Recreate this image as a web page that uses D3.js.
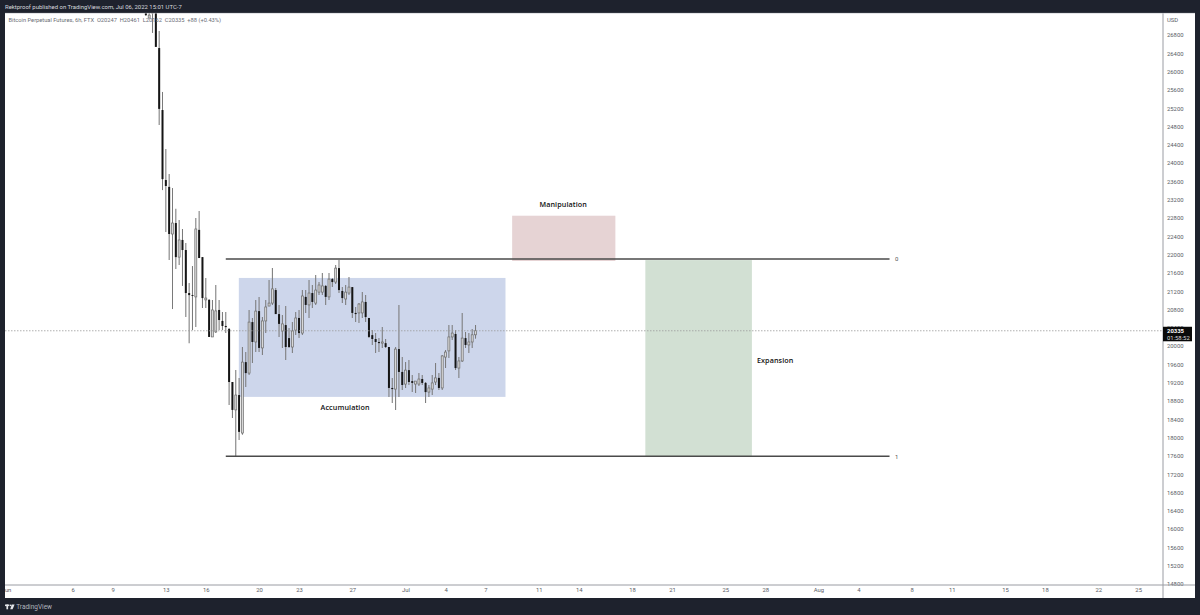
<!DOCTYPE html>
<html><head><meta charset="utf-8">
<script src="https://cdnjs.cloudflare.com/ajax/libs/d3/7.8.5/d3.min.js"></script>
<style>html,body{margin:0;padding:0;background:#1e222d;overflow:hidden}svg{display:block}</style>
</head><body><svg id="c" width="1200" height="615"></svg>
<script>
const firstCandle = "2022-06-11T12:00:00Z";
const opens = [27280,27170,27280,27345,26515,25160,23630,23480,22450,22690,21945,22320,22100,21160,21115,21075,22540,21945,21010,21010,20200,20310,20790,20550,20440,20375,19215,18605,18930,18100,19650,19410,20525,20090,20765,19960,20550,20875,20940,21225,20700,20330,20460,20175,19980,20350,20615,20285,21075,20900,21160,20940,21180,21180,21315,21075,21465,21400,21705,21205,21030,21160,21290,20725,20725,20725,20965,20615,20240,20155,20090,20065,20065,19980,19085,19060,19935,19435,19170,19475,19235,19170,19170,19280,19195,18995,19060,19215,19305,19085,19760,19895,20200,20265,19520,19675,20175,20025,20090,20247];
const highs = [27280,27280,27390,27390,26890,25555,24310,23760,23455,23000,22755,22560,22255,21380,21750,22800,22955,21945,21490,21030,21010,21335,21010,20745,20745,20395,19215,19475,19305,19980,19870,20790,20615,21010,21075,20635,21010,21445,21705,21270,20900,20680,20875,20395,20525,20745,20790,21225,21225,21445,21335,21555,21400,21600,21335,21600,21490,21775,21880,21290,21335,21510,21290,20855,20940,21180,21115,20615,20350,20285,20175,20415,20155,19980,19305,19980,20900,19760,19650,19695,19370,19235,19410,19370,19215,19150,19370,19630,19410,19805,19915,20460,20460,20350,19760,20725,20310,20285,20375,20461];
const lows = [27215,27170,26845,26540,24835,23410,22495,21880,20810,21685,21775,21315,20635,20065,20350,20420,21925,20835,20835,20200,20200,20285,20350,20350,20285,18710,18430,17575,17945,18060,19105,19370,19630,19870,19870,19805,20285,20875,20900,20700,20200,19960,19695,19960,19850,20240,20175,20240,20725,20615,20835,20900,21115,21115,20900,21010,21290,21360,21160,20940,20900,21115,20615,20525,20505,20615,20525,20175,20025,19850,19870,19960,19960,18885,18755,18605,18885,19040,19085,19150,18995,18975,19130,19150,18755,18885,18930,19150,19040,19040,19520,19740,20135,19475,19305,19650,19960,19850,19960,20162];
const closes = [27235,27235,27345,26540,25185,23650,23500,22450,22690,21945,22320,22100,21160,21115,21095,22560,21925,21050,21050,20200,20790,20770,20570,20440,20415,19215,18605,18930,18125,19650,19410,20525,20090,20765,19960,20550,20855,20940,21250,20700,20485,20485,19980,19980,20330,20615,20285,21095,20900,21160,20965,21225,21335,21315,21075,21465,21400,21705,21225,21050,21180,21290,20725,20700,20920,20965,20635,20200,20155,20090,20065,20090,19980,19085,19060,19935,19435,19150,19475,19215,19195,19235,19280,19195,18995,19085,19195,19305,19085,19785,19870,20200,20285,19520,19675,20175,20025,20090,20247,20335];

const priceTicks = d3.range(14800, 27200, 400);
const timeTicks = ["2022-06-01","2022-06-06","2022-06-09","2022-06-13","2022-06-16","2022-06-20","2022-06-23","2022-06-27","2022-07-01","2022-07-04","2022-07-07","2022-07-11","2022-07-14","2022-07-18","2022-07-21","2022-07-25","2022-07-28","2022-08-01","2022-08-04","2022-08-08","2022-08-11","2022-08-15","2022-08-18","2022-08-22","2022-08-25"];
const zones = [
  {name:"Accumulation", from:"2022-06-18T11:30:00Z", to:"2022-07-08T12:00:00Z", top:21490, bottom:18890, fill:"#cdd6eb"},
  {name:"Manipulation", from:"2022-07-09T00:00:00Z", to:"2022-07-16T18:00:00Z", top:22850, bottom:21860, fill:"#e6d3d4"},
  {name:"Expansion",    from:"2022-07-19T00:00:00Z", to:"2022-07-27T00:00:00Z", top:21880, bottom:17590, fill:"#d2e0d3"}
];
const levels = [{label:"0", price:21905},{label:"1", price:17590}];
const levelFrom = "2022-06-17T12:00:00Z", levelTo = "2022-08-06T08:00:00Z";
const lastPrice = 20335;
const annotations = [
  {text:"Manipulation", date:"2022-07-12T20:00:00Z", price:23085, anchor:"middle"},
  {text:"Accumulation", date:"2022-06-26T11:00:00Z", price:18640, anchor:"middle"},
  {text:"Expansion",    date:"2022-07-27T09:00:00Z", price:19668, anchor:"start"}
];

const FONT = "Roboto, 'Liberation Sans', sans-serif";
const svg = d3.select("#c");
const pane = {l:5, r:1163, t:13, b:585, right:1195, bottom:598};

const x = d3.scaleUtc().domain([new Date("2022-06-01T00:00:00Z"), new Date("2022-08-01T00:00:00Z")]).range([6, 818.5]);
const y = d3.scaleLinear().domain([14800, 26800]).range([584, 35]);
const tx = s => x(new Date(s));

svg.append("rect").attr("width",1200).attr("height",615).attr("fill","#1e222d");
svg.append("rect").attr("x",pane.l).attr("y",pane.t).attr("width",pane.right-pane.l).attr("height",pane.bottom-pane.t).attr("fill","#fff");
svg.append("defs").append("clipPath").attr("id","p").append("rect")
  .attr("x",pane.l).attr("y",pane.t).attr("width",pane.r-pane.l).attr("height",pane.b-pane.t);
svg.select("defs").append("clipPath").attr("id","xa").append("rect")
  .attr("x",pane.l).attr("y",pane.b).attr("width",pane.r-pane.l).attr("height",13);

const plot = svg.append("g").attr("clip-path","url(#p)");

plot.selectAll("rect.zone").data(zones).join("rect").attr("class","zone")
  .attr("x",d=>tx(d.from)).attr("width",d=>tx(d.to)-tx(d.from))
  .attr("y",d=>y(d.top)).attr("height",d=>y(d.bottom)-y(d.top)).attr("fill",d=>d.fill);

const start = new Date(firstCandle);
const candles = opens.map((o,i)=>({date:d3.utcHour.offset(start,6*i),o,h:highs[i],l:lows[i],c:closes[i]}));
const cg = plot.selectAll("g.k").data(candles).join("g").attr("class","k");
cg.append("line").attr("x1",d=>x(d.date)).attr("x2",d=>x(d.date))
  .attr("y1",d=>y(d.h)).attr("y2",d=>y(d.l)).attr("stroke","#7a7a7a").attr("stroke-width",1.05);
cg.append("rect").attr("x",d=>x(d.date)-1).attr("width",2)
  .attr("y",d=>y(Math.max(d.o,d.c)))
  .attr("height",d=>Math.max(0.8,Math.abs(y(d.o)-y(d.c))))
  .attr("fill",d=>d.c>=d.o?"#d8d8d8":"#151515")
  .attr("stroke",d=>d.c>=d.o?"#6c6c6c":"none").attr("stroke-width",0.7);

plot.append("line").attr("x1",pane.l).attr("x2",pane.r).attr("y1",y(lastPrice)).attr("y2",y(lastPrice))
  .attr("stroke","#9a9a9a").attr("stroke-width",0.8).attr("stroke-dasharray","1.5 1.5");

svg.selectAll("line.lvl").data(levels).join("line").attr("class","lvl")
  .attr("x1",tx(levelFrom)).attr("x2",tx(levelTo)).attr("y1",d=>y(d.price)).attr("y2",d=>y(d.price))
  .attr("stroke","#4a4a4a").attr("stroke-width",1.5);
svg.selectAll("text.lvl").data(levels).join("text").attr("class","lvl")
  .attr("x",tx(levelTo)+5.5).attr("y",d=>y(d.price)+2.2).text(d=>d.label)
  .attr("font-family",FONT).attr("font-size",6).attr("fill","#555");

svg.selectAll("text.ann").data(annotations).join("text").attr("class","ann")
  .attr("x",d=>tx(d.date)).attr("y",d=>y(d.price)).attr("text-anchor",d=>d.anchor)
  .attr("dominant-baseline","middle").text(d=>d.text)
  .attr("font-family","'Open Sans',sans-serif").attr("font-weight",600).attr("font-size",7.2).attr("letter-spacing",0.1).attr("fill","#111");

// price axis
const ya = svg.append("g").attr("transform",`translate(${pane.r},0)`)
  .call(d3.axisRight(y).tickValues(priceTicks).tickSize(0).tickPadding(4).tickFormat(d3.format("d")));
ya.select(".domain").remove();
ya.selectAll("text").attr("font-family",FONT).attr("font-size",5.9).attr("fill","#5a5d66");
svg.append("line").attr("x1",pane.r).attr("x2",pane.r).attr("y1",pane.t).attr("y2",pane.bottom).attr("stroke","#9a9ca3").attr("stroke-width",1);
svg.append("text").attr("x",pane.r+4).attr("y",21.8).text("USD").attr("font-family",FONT).attr("font-size",5.9).attr("fill","#5a5d66");

// time axis
const xa = svg.append("g").attr("clip-path","url(#xa)").append("g").attr("transform",`translate(0,${pane.b})`)
  .call(d3.axisBottom(x).tickValues(timeTicks.map(s=>new Date(s+"T00:00:00Z"))).tickSize(0).tickPadding(3)
    .tickFormat(d=>d.getUTCDate()===1?d3.utcFormat("%b")(d):d.getUTCDate()));
xa.select(".domain").remove();
xa.selectAll("text").attr("font-family",FONT).attr("font-size",5.9).attr("fill","#5a5d66");
svg.append("line").attr("x1",pane.l).attr("x2",pane.right).attr("y1",pane.b).attr("y2",pane.b).attr("stroke","#9a9ca3").attr("stroke-width",1);
svg.append("line").attr("x1",pane.l).attr("x2",pane.right).attr("y1",pane.t+0.3).attr("y2",pane.t+0.3).attr("stroke","#c4c6cc").attr("stroke-width",0.6);

// last price badge
svg.append("rect").attr("x",pane.r).attr("y",y(lastPrice)-4).attr("width",29).attr("height",14.5).attr("fill","#0a0a0a");
svg.append("text").attr("x",pane.r+4).attr("y",y(lastPrice)+2.2).text(String(lastPrice))
  .attr("font-family",FONT).attr("font-weight",700).attr("font-size",5.9).attr("fill","#fff");
svg.append("text").attr("x",pane.r+4).attr("y",y(lastPrice)+9).text("01:58:52")
  .attr("font-family",FONT).attr("font-size",5.9).attr("fill","#ddd");

// header and legend
svg.append("text").attr("x",5).attr("y",9.2).text("Rektproof published on TradingView.com, Jul 06, 2022 15:01 UTC-7")
  .attr("font-family",FONT).attr("font-size",5.95).attr("fill","#d6d8de");
svg.append("text").attr("x",8.5).attr("y",22.2)
  .text("Bitcoin Perpetual Futures, 6h, FTX\u00a0\u00a0O20247\u00a0\u00a0H20461\u00a0\u00a0L20162\u00a0\u00a0C20335\u00a0\u00a0+88 (+0.43%)")
  .attr("font-family",FONT).attr("font-size",5.72).attr("fill","#6a6d76");

// footer
const logo = svg.append("g").attr("transform","translate(5,604.5)").attr("fill","#e4e6ea");
logo.append("rect").attr("width",4.4).attr("height",1.6);
logo.append("rect").attr("x",1.4).attr("width",1.7).attr("height",4.8);
logo.append("circle").attr("cx",5.7).attr("cy",0.9).attr("r",0.8);
logo.append("path").attr("d","M6.8 0H9.6L7.6 4.8H5.2Z");
svg.append("text").attr("x",16.2).attr("y",609.2).text("TradingView")
  .attr("font-family",FONT).attr("font-size",6.5).attr("fill","#b2b5be");
</script></body></html>
